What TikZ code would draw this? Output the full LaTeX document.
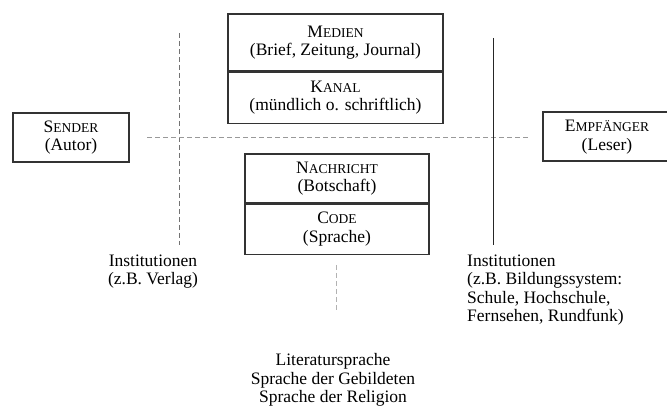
\documentclass[tikz,border=0pt]{standalone}
\usepackage{fontspec}
\setmainfont{Liberation Serif}
\usetikzlibrary{positioning}
\newcommand{\kapit}[2]{#1{\fontsize{13.5pt}{15pt}\selectfont #2}}

\begin{document}
\begin{tikzpicture}[x=1pt, y=-1pt,
  font=\fontsize{17.5pt}{18.5pt}\selectfont,
  box/.style={draw=black!80, line width=1.1pt, align=center, inner sep=0pt},
  axis/.style={draw=black!55, line width=.8pt, dash pattern=on 5pt off 3pt},
  note/.style={align=center, inner sep=0pt}
]
  \useasboundingbox (0,0) rectangle (667,414);

  \draw[axis] (179,33) -- (179,245);
  \draw[axis, draw=black!40] (147,137) -- (530,137);
  \draw[black!85, line width=1pt] (493,38) -- (493,245);
  \draw[axis, draw=black!30] (336,265) -- (336,310);

  \node[box, minimum width=116pt, minimum height=49pt] (sender) at (71,137.5) {\kapit{S}{ENDER}\\(Autor)};
  \node[box, minimum width=215pt, minimum height=57pt] (medien) at (335.5,42.5) {\kapit{M}{EDIEN}\\(Brief, Zeitung, Journal)};
  \node[box, minimum width=215pt, minimum height=51pt, below=0pt of medien] (kanal) {\kapit{K}{ANAL}\\(mündlich o. schriftlich)};
  \node[box, minimum width=184pt, minimum height=49pt] (nachricht) at (337,178.5) {\kapit{N}{ACHRICHT}\\(Botschaft)};
  \node[box, minimum width=184pt, minimum height=50pt, below=0pt of nachricht] (code) {\kapit{C}{ODE}\\(Sprache)};

  \node[note] (empfaenger) at (607,137) {\kapit{E}{MPFÄNGER}\\(Leser)};
  \draw[draw=black!80, line width=1.1pt] (690,112) -| (543,161) -- (690,161);

  \node[note] (verlag) at (153,271.5) {Institutionen\\(z.B. Verlag)};
  \node[note, align=left, anchor=west] (bildung) at (467,290) {Institutionen\\(z.B. Bildungssystem:\\Schule, Hochschule,\\Fernsehen, Rundfunk)};
  \node[note] (sprachen) at (333,380) {Literatursprache\\Sprache der Gebildeten\\Sprache der Religion};
\end{tikzpicture}
\end{document}
